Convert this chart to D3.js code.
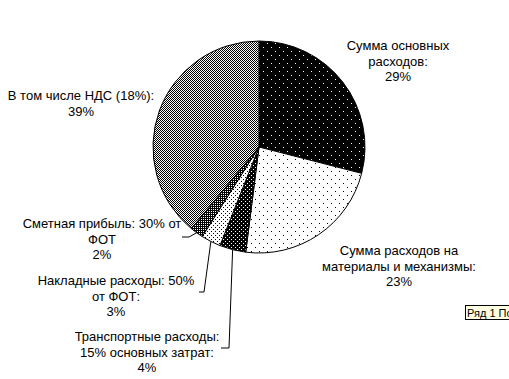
<!DOCTYPE html>
<html>
<head>
<meta charset="utf-8">
<script src="https://cdn.jsdelivr.net/npm/d3@7"></script>
<style>
  body { margin: 0; background: #fff; }
  svg { display: block; }
  text { font-family: "Liberation Sans", Arial, sans-serif; font-size: 13px; fill: #000; }
</style>
</head>
<body>
<svg id="chart" width="509" height="379"></svg>
<script>
// slices, clockwise from 12 o'clock
const categories = [
  "Сумма основных расходов",
  "Сумма расходов на материалы и механизмы",
  "Транспортные расходы: 15% основных затрат",
  "Накладные расходы: 50% от ФОТ",
  "Сметная прибыль: 30% от ФОТ",
  "В том числе НДС (18%)"
];
const values = [29, 23, 4, 3, 2, 39];
const labelLines = [
  ["Сумма основных", "расходов:"],
  ["Сумма расходов на", "материалы и механизмы:"],
  ["Транспортные расходы:", "15% основных затрат:"],
  ["Накладные расходы: 50%", "от ФОТ:"],
  ["Сметная прибыль: 30% от", "ФОТ"],
  ["В том числе НДС (18%):"]
];
const patternIds = ["p29", "p23", "p4", "p3", "p2", "p39"];

const width = 509, height = 379;
const cx = 259, cy = 147, r = 106;

// label placement: text centre x, first baseline, leader [elbowX, elbowY, endX] or null
const labelPos = [
  { x: 398, y: 50, leader: null },
  { x: 399, y: 255, leader: null },
  { x: 147, y: 341, leader: [229, 348, 221] },
  { x: 116, y: 285, leader: [204, 292, 199] },
  { x: 102, y: 228, leader: [189, 237, 182] },
  { x: 81, y: 100, leader: null }
];
const lineH = 15.5;

const svg = d3.select("#chart");
const defs = svg.append("defs");

// bitmap-like fill patterns: size, background, dot colour, dot cells
function makePattern(id, size, bg, fg, dots) {
  const p = defs.append("pattern")
    .attr("id", id)
    .attr("patternUnits", "userSpaceOnUse")
    .attr("width", size).attr("height", size);
  p.append("rect").attr("width", size).attr("height", size).attr("fill", bg);
  dots.forEach(d => {
    p.append("rect").attr("x", d[0]).attr("y", d[1])
      .attr("width", 1).attr("height", 1).attr("fill", fg)
      .attr("shape-rendering", "crispEdges");
  });
}
makePattern("p29", 8, "#000", "#fff", [[0, 0], [4, 4]]);
makePattern("p23", 8, "#fff", "#000", [[0, 0], [4, 4]]);
makePattern("p4", 4, "#000", "#fff", [[0, 0], [2, 2]]);
makePattern("p3", 4, "#fff", "#000", [[0, 0], [2, 2]]);
makePattern("p2", 2, "#000", "#fff", [[0, 0]]);
makePattern("p39", 2, "#fff", "#000", [[0, 0], [1, 1]]);

const pie = d3.pie().sort(null).value(d => d);
const arcs = pie(values);
const arc = d3.arc().innerRadius(0).outerRadius(r);

const g = svg.append("g").attr("transform", `translate(${cx},${cy})`);
g.selectAll("path")
  .data(arcs)
  .enter()
  .append("path")
  .attr("d", arc)
  .attr("fill", (d, i) => `url(#${patternIds[i]})`)
  .attr("stroke", "#000")
  .attr("stroke-width", 1);

const total = d3.sum(values);
const fmt = d3.format(".0%");

// leader lines
arcs.forEach((a, i) => {
  const lp = labelPos[i];
  if (!lp.leader) return;
  const mid = (a.startAngle + a.endAngle) / 2;
  const sx = cx + r * Math.sin(mid), sy = cy - r * Math.cos(mid);
  const pts = [[sx, sy], [lp.leader[0], lp.leader[1]], [lp.leader[2], lp.leader[1]]];
  svg.append("path")
    .attr("d", d3.line()(pts))
    .attr("fill", "none")
    .attr("stroke", "#000")
    .attr("stroke-width", 1);
});

// labels
arcs.forEach((a, i) => {
  const lp = labelPos[i];
  const lines = labelLines[i].concat([fmt(values[i] / total)]);
  const t = svg.append("text").attr("text-anchor", "middle");
  lines.forEach((s, k) => {
    t.append("tspan").attr("x", lp.x).attr("y", lp.y + k * lineH).text(s);
  });
});

// hover tip left in the screenshot (cut by the right edge, as in the original)
const tip = svg.append("g");
tip.append("rect")
  .attr("x", 465.5).attr("y", 305.5).attr("width", 50).attr("height", 14)
  .attr("fill", "#ffffe1").attr("stroke", "#000");
tip.append("text")
  .attr("x", 467).attr("y", 316.5)
  .style("font-size", "11px")
  .text("Ряд 1 По");
</script>
</body>
</html>
